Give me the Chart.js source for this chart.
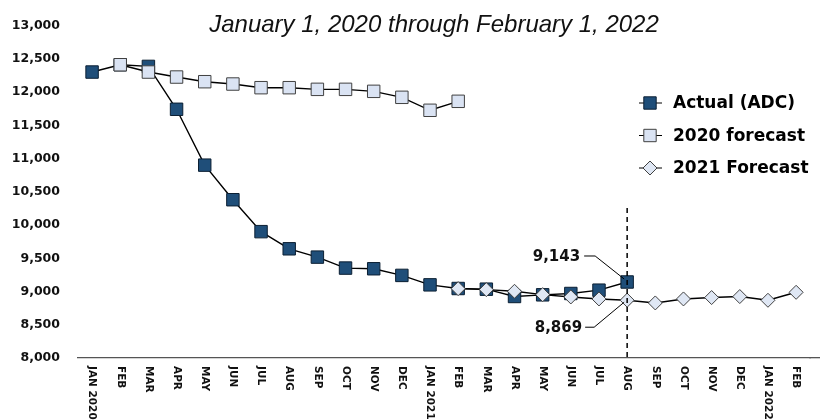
<!DOCTYPE html>
<html>
<head>
<meta charset="utf-8">
<script src="https://cdn.jsdelivr.net/npm/chart.js@4.4.1/dist/chart.umd.min.js"></script>
<style>
  html, body { margin: 0; padding: 0; background: #fff; }
  #wrap { width: 820px; height: 420px; }
</style>
</head>
<body>
<div id="wrap"><canvas id="adcChart" width="820" height="420"></canvas></div>
<script>
// Average daily census, monthly, Jan 2020 - Feb 2022
const months = ['JAN 2020', 'FEB', 'MAR', 'APR', 'MAY', 'JUN', 'JUL', 'AUG', 'SEP', 'OCT', 'NOV', 'DEC',
                'JAN 2021', 'FEB', 'MAR', 'APR', 'MAY', 'JUN', 'JUL', 'AUG', 'SEP', 'OCT', 'NOV', 'DEC',
                'JAN 2022', 'FEB'];

const actualADC = [12300, 12410, 12385, 11740, 10900, 10380, 9900, 9642, 9517, 9352, 9342, 9242,
                   9100, 9045, 9035, 8925, 8950, 8970, 9020, 9143,
                   null, null, null, null, null, null];

const forecast2020 = [null, 12410, 12300, 12225, 12155, 12120, 12065, 12065, 12040, 12040, 12010, 11920,
                      11725, 11860,
                      null, null, null, null, null, null, null, null, null, null, null, null];

const forecast2021 = [null, null, null, null, null, null, null, null, null, null, null, null,
                      null, 9043, 9028, 9003, 8953, 8918, 8888, 8869, 8828, 8888, 8909, 8924,
                      8868, 8988];

const yMin = 8000;
const yMax = 13000;
const yStep = 500;

const titleText = 'January 1, 2020 through February 1, 2022';
const cutoffIndex = 19;  // AUG 2021, dashed line + callouts

const seriesStyles = [
  { name: 'Actual (ADC)', style: 'rect', fill: '#1f4e79', edge: '#0b1f33' },
  { name: '2020 forecast', style: 'rect', fill: '#dae3f3', edge: '#404040' },
  { name: '2021 Forecast', style: 'rectRot', fill: '#dfe7f4', edge: '#404040' }
];

const fmt = v => v.toLocaleString('en-US');

function drawMarker(ctx, style, cx, cy, fill, edge) {
  ctx.beginPath();
  if (style === 'rect') {
    ctx.rect(cx - 6.2, cy - 6.2, 12.4, 12.4);
  } else {
    ctx.moveTo(cx, cy - 7);
    ctx.lineTo(cx + 7, cy);
    ctx.lineTo(cx, cy + 7);
    ctx.lineTo(cx - 7, cy);
    ctx.closePath();
  }
  ctx.fillStyle = fill;
  ctx.fill();
  ctx.lineWidth = 1;
  ctx.strokeStyle = edge;
  ctx.stroke();
}

const overlay = {
  id: 'overlay',
  afterDraw(chart) {
    const { ctx, chartArea, scales: { x, y } } = chart;
    ctx.save();

    // axis line runs on to the canvas edge (same pixel snapping as the border)
    const ay = Math.round(x.top - 0.65) + 0.65;
    ctx.beginPath();
    ctx.strokeStyle = '#555';
    ctx.lineWidth = 1.3;
    ctx.moveTo(chartArea.right - 1, ay);
    ctx.lineTo(820, ay);
    ctx.stroke();

    // title sits inside the plot, top centre
    ctx.font = 'italic 24px "Liberation Sans", Arial, sans-serif';
    ctx.fillStyle = '#111';
    ctx.textAlign = 'center';
    ctx.textBaseline = 'alphabetic';
    ctx.fillText(titleText, 434, 32);

    // month labels, rotated clockwise
    ctx.font = 'bold 10.5px "DejaVu Sans", sans-serif';
    ctx.fillStyle = '#111';
    ctx.textAlign = 'left';
    ctx.textBaseline = 'middle';
    months.forEach((m, i) => {
      ctx.save();
      ctx.translate(x.getPixelForValue(i), chartArea.bottom + 8);
      ctx.rotate(Math.PI / 2);
      ctx.fillText(m, 0, 0);
      ctx.restore();
    });

    // dashed cutoff line
    const cx = x.getPixelForValue(cutoffIndex);
    ctx.beginPath();
    ctx.setLineDash([5, 4]);
    ctx.lineWidth = 1.5;
    ctx.strokeStyle = '#000';
    ctx.moveTo(cx, 208);
    ctx.lineTo(cx, chartArea.bottom);
    ctx.stroke();
    ctx.setLineDash([]);

    // callouts
    ctx.font = 'bold 15px "DejaVu Sans", sans-serif';
    ctx.textAlign = 'right';
    ctx.lineWidth = 1;
    const pa = y.getPixelForValue(actualADC[cutoffIndex]);
    ctx.beginPath();
    ctx.moveTo(cx - 43, pa - 26);
    ctx.lineTo(cx - 32, pa - 26);
    ctx.lineTo(cx - 3, pa - 3);
    ctx.stroke();
    ctx.fillText(fmt(actualADC[cutoffIndex]), cx - 47, pa - 25);

    const pf = y.getPixelForValue(forecast2021[cutoffIndex]);
    ctx.beginPath();
    ctx.moveTo(cx - 42, pf + 27);
    ctx.lineTo(cx - 33, pf + 27);
    ctx.lineTo(cx - 3, pf + 2);
    ctx.stroke();
    ctx.fillText(fmt(forecast2021[cutoffIndex]), cx - 45, pf + 28);

    // legend
    ctx.font = 'bold 17px "DejaVu Sans", sans-serif';
    ctx.textAlign = 'left';
    seriesStyles.forEach((s, i) => {
      const ly = 103 + i * 32.5;
      ctx.beginPath();
      ctx.strokeStyle = '#000';
      ctx.lineWidth = 1;
      ctx.moveTo(639, ly);
      ctx.lineTo(662, ly);
      ctx.stroke();
      drawMarker(ctx, s.style, 650, ly, s.fill, s.edge);
      ctx.fillStyle = '#000';
      ctx.fillText(s.name, 673, ly + 1);
    });

    ctx.restore();
  }
};

new Chart(document.getElementById('adcChart'), {
  type: 'line',
  data: {
    labels: months,
    datasets: [
      {
        label: seriesStyles[0].name,
        data: actualADC,
        borderColor: '#000',
        borderWidth: 1.4,
        pointStyle: 'rect',
        pointRadius: 8.8,
        pointBackgroundColor: seriesStyles[0].fill,
        pointBorderColor: seriesStyles[0].edge,
        pointBorderWidth: 1,
        order: 3
      },
      {
        label: seriesStyles[1].name,
        data: forecast2020,
        borderColor: '#000',
        borderWidth: 1.4,
        pointStyle: 'rect',
        pointRadius: 8.8,
        pointBackgroundColor: seriesStyles[1].fill,
        pointBorderColor: seriesStyles[1].edge,
        pointBorderWidth: 1,
        order: 2
      },
      {
        label: seriesStyles[2].name,
        data: forecast2021,
        borderColor: '#000',
        borderWidth: 1.4,
        pointStyle: 'rectRot',
        pointRadius: 7,
        pointBackgroundColor: seriesStyles[2].fill,
        pointBorderColor: seriesStyles[2].edge,
        pointBorderWidth: 1,
        order: 1
      }
    ]
  },
  options: {
    responsive: false,
    animation: false,
    locale: 'en-US',
    layout: { padding: { left: 12, top: 24, right: 4, bottom: 0 } },
    plugins: {
      legend: { display: false },
      tooltip: { enabled: false }
    },
    elements: { line: { tension: 0 } },
    scales: {
      x: {
        type: 'category',
        offset: true,
        grid: { display: false },
        border: { display: true, color: '#555', width: 1.3 },
        ticks: { display: false },
        afterFit(s) { s.height = 62; }
      },
      y: {
        min: yMin,
        max: yMax,
        grid: { display: false, drawTicks: false },
        border: { display: false },
        ticks: {
          stepSize: yStep,
          padding: 18,
          color: '#111',
          font: { family: '"DejaVu Sans", sans-serif', size: 12.5, weight: 'bold' }
        },
        afterFit(s) { s.width = 66; }
      }
    }
  },
  plugins: [overlay]
});
</script>
</body>
</html>
